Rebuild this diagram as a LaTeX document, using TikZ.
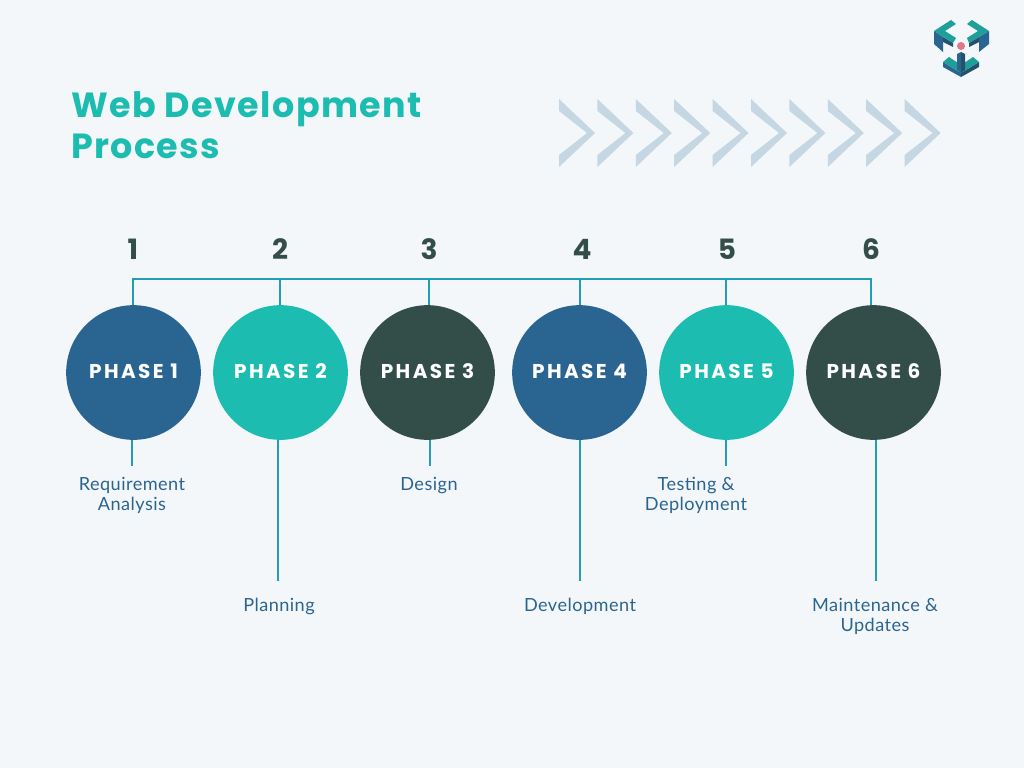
\documentclass[tikz,border=0pt]{standalone}
\usepackage{fontspec}
\setmainfont{Lato}[LetterSpace=2.5]
\newfontfamily\headfont{Poppins}
\newfontfamily\widefont{Poppins}[LetterSpace=12]
\newfontfamily\titlefont{Poppins}[LetterSpace=4]
\usetikzlibrary{positioning}
\definecolor{pagebg}{HTML}{F4F7F9}
\definecolor{phaseblue}{HTML}{2A6592}
\definecolor{phaseteal}{HTML}{1CBCB0}
\definecolor{phasedark}{HTML}{334E48}
\definecolor{linkteal}{HTML}{1E9FB2}
\definecolor{chevron}{HTML}{C6D7E4}
\definecolor{logoteal}{HTML}{1E9F9A}
\definecolor{logoside}{HTML}{2A6592}
\definecolor{logodark}{HTML}{25506F}
\definecolor{logodot}{HTML}{E0788C}
\tikzset{
  phase/.style={circle, minimum size=101pt, inner sep=0pt, text=white, text depth=1.5pt, font=\widefont\bfseries\fontsize{15}{17}\selectfont},
  number/.style={text=phasedark, inner sep=0pt, font=\headfont\bfseries\fontsize{21}{24}\selectfont},
  caption/.style={text=phaseblue, align=center, anchor=north, inner sep=0pt, font=\fontsize{13.6}{15}\selectfont},
  link/.style={draw=linkteal, line width=1.5pt}
}
\begin{document}
\begin{tikzpicture}[x=0.75pt, y=-0.75pt]
    \useasboundingbox[fill=pagebg] (0,0) rectangle (1024,768);

    % title
    \node[anchor=north west, inner sep=0pt, text=phaseteal, align=left, font=\titlefont\bfseries\fontsize{26.2}{31}\selectfont] (title) at (71,91) {Web Development\\Process};

    % chevrons
    \foreach \i in {0,...,9}
      \fill[chevron, shift={(38.4*\i,0)}] (559,99) -- (595,133) -- (559,167) -- (559,155) -- (587,133) -- (559,111) -- cycle;

    % logo
    \fill[logoside] (934,31) -- (943,37) -- (943,52) -- (934,44) -- cycle;
    \fill[logodark] (943,37) -- (953,43) -- (953,47) -- (943,42) -- cycle;
    \fill[logoteal] (934,31) -- (951,20) -- (956,24) -- (945,31) -- (956,38) -- (953,43) -- (943,37) -- cycle;
    \fill[logoside] (989,31) -- (979,37) -- (979,52) -- (989,44) -- cycle;
    \fill[logodark] (979,37) -- (969,43) -- (969,47) -- (979,42) -- cycle;
    \fill[logoteal] (989,31) -- (972,20) -- (967,24) -- (978,31) -- (967,38) -- (969,43) -- (979,37) -- cycle;
    \fill[logoside] (943,62) -- (961,73) -- (961,77) -- (943,67) -- cycle;
    \fill[logodark] (979,62) -- (961,73) -- (961,77) -- (979,67) -- cycle;
    \fill[logoteal] (943,62) -- (949,57) -- (961,65) -- (973,57) -- (979,62) -- (961,73) -- cycle;
    \fill[logoside] (957,54) -- (961,52) -- (961,73) -- (957,70) -- cycle;
    \fill[logodark] (961,52) -- (965,54) -- (965,70) -- (961,73) -- cycle;
    \fill[logodot] (961,46) circle (4);

    % numbers
    \node[number] (n1) at (133,249) {1};
    \node[number] (n2) at (280,249) {2};
    \node[number] (n3) at (429,249) {3};
    \node[number] (n4) at (582,249) {4};
    \node[number] (n5) at (727,249) {5};
    \node[number] (n6) at (871,249) {6};

    % circles
    \node[phase, fill=phaseblue] (p1) at (133.5,372.5) {PHASE 1};
    \node[phase, fill=phaseteal] (p2) at (280.5,372.5) {PHASE 2};
    \node[phase, fill=phasedark] (p3) at (427.5,372.5) {PHASE 3};
    \node[phase, fill=phaseblue] (p4) at (579.5,372.5) {PHASE 4};
    \node[phase, fill=phaseteal] (p5) at (726.5,372.5) {PHASE 5};
    \node[phase, fill=phasedark] (p6) at (873.5,372.5) {PHASE 6};

    % captions
    \node[caption] (c1) at (132,477) {Requirement\\Analysis};
    \node[caption] (c2) at (279,598) {Planning};
    \node[caption] (c3) at (429,477) {Design};
    \node[caption] (c4) at (580,598) {Development};
    \node[caption] (c5) at (696,477) {Testing \&\\Deployment};
    \node[caption] (c6) at (875,598) {Maintenance \&\\Updates};

    % top bar
    \coordinate (b1) at (133,279);
    \coordinate (b2) at (280,279);
    \coordinate (b3) at (429,279);
    \coordinate (b4) at (580,279);
    \coordinate (b5) at (726,279);
    \coordinate (b6) at (871,279);
    \draw[link] (b1 |- p1.north) -- (b1) -- (b6) -- (b6 |- p6.north);
    \draw[link] (b2) -- (b2 |- p2.north);
    \draw[link] (b3) -- (b3 |- p3.north);
    \draw[link] (b4) -- (b4 |- p4.north);
    \draw[link] (b5) -- (b5 |- p5.north);

    % bottom stems
    \coordinate (e1) at (132,466);
    \coordinate (e2) at (278,581);
    \coordinate (e3) at (430,466);
    \coordinate (e4) at (580,581);
    \coordinate (e5) at (726,466);
    \coordinate (e6) at (876,581);
    \draw[link] (e1 |- p1.south) -- (e1);
    \draw[link] (e2 |- p2.south) -- (e2);
    \draw[link] (e3 |- p3.south) -- (e3);
    \draw[link] (e4 |- p4.south) -- (e4);
    \draw[link] (e5 |- p5.south) -- (e5);
    \draw[link] (e6 |- p6.south) -- (e6);
\end{tikzpicture}
\end{document}
